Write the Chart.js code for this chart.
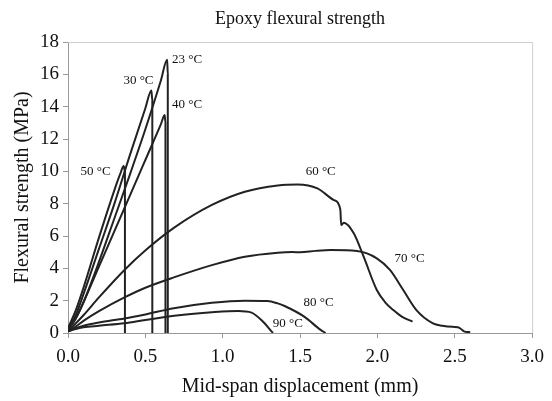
<!DOCTYPE html>
<html>
<head>
<meta charset="utf-8">
<script src="https://cdn.jsdelivr.net/npm/chart.js@4.4.1/dist/chart.umd.min.js"></script>
<style>
  html, body { margin: 0; padding: 0; background: #fff; }
  #wrap { width: 552px; height: 401px; }
</style>
</head>
<body>
<div id="wrap"><canvas id="flex"></canvas></div>
<script>
// Flexural strength (MPa) vs mid-span displacement (mm)
const x23 = [0, 0.05, 0.1, 0.2, 0.3, 0.4, 0.5, 0.6, 0.641, 0.645, 0.645];
const y23 = [0.2, 0.9, 1.9, 4.4, 7.1, 9.8, 12.6, 15.6, 16.9, 16.0, 0];

const x30 = [0, 0.05, 0.1, 0.2, 0.3, 0.4, 0.5, 0.539, 0.545, 0.545];
const y30 = [0.2, 1.1, 2.4, 5.2, 8.0, 11.0, 13.9, 15.0, 14.4, 0];

const x40 = [0, 0.05, 0.1, 0.2, 0.3, 0.4, 0.5, 0.6, 0.625, 0.63, 0.63];
const y40 = [0.2, 0.9, 1.9, 4.1, 6.3, 8.5, 10.7, 12.9, 13.48, 13.0, 0];

const x50 = [0, 0.05, 0.1, 0.2, 0.3, 0.34, 0.36, 0.368, 0.368];
const y50 = [0.3, 1.4, 2.8, 5.9, 8.84, 9.9, 10.33, 10.0, 0];

const x60 = [0, 0.1, 0.2, 0.365, 0.503, 0.684, 0.93, 1.143, 1.356, 1.484, 1.612, 1.719, 1.76, 1.766,
  1.783, 1.847, 1.911, 1.996, 2.05, 2.103, 2.16, 2.227];
const y60 = [0.1, 1.1, 2.2, 3.9, 5.13, 6.5, 7.92, 8.74, 9.13, 9.19, 8.95, 8.22, 7.65, 6.68,
  6.82, 6.17, 4.72, 2.66, 1.9, 1.42, 1.0, 0.7];

const x70 = [0, 0.05, 0.1, 0.2, 0.365, 0.5, 0.684, 0.93, 1.143, 1.356, 1.45, 1.5, 1.6, 1.7, 1.868, 1.996,
  2.081, 2.167, 2.252, 2.359, 2.42, 2.487, 2.52, 2.54, 2.56, 2.6];
const y70 = [0.1, 0.4, 0.75, 1.35, 2.2, 2.8, 3.44, 4.2, 4.72, 4.97, 5.01, 4.99, 5.08, 5.13, 5.07, 4.62,
  3.9, 2.66, 1.42, 0.6, 0.45, 0.38, 0.36, 0.25, 0.1, 0.05];

const x80 = [0, 0.05, 0.1, 0.2, 0.365, 0.5, 0.684, 0.93, 1.143, 1.29, 1.356, 1.4, 1.527, 1.633, 1.665];
const y80 = [0.1, 0.3, 0.45, 0.65, 0.9, 1.15, 1.53, 1.87, 2.0, 1.98, 1.83, 1.67, 1.01, 0.19, 0];

const x90 = [0, 0.05, 0.1, 0.2, 0.365, 0.5, 0.717, 0.93, 1.1, 1.186, 1.25, 1.325];
const y90 = [0.1, 0.25, 0.35, 0.45, 0.6, 0.8, 1.1, 1.28, 1.36, 1.26, 0.8, 0];

// curve labels (left edge x, middle y in data units)
const labelText = ['23 °C', '30 °C', '40 °C', '50 °C', '60 °C', '70 °C', '80 °C', '90 °C'];
const labelX = [0.672, 0.358, 0.672, 0.081, 1.536, 2.111, 1.523, 1.324];
const labelY = [16.94, 15.6, 14.16, 9.97, 9.97, 4.62, 1.87, 0.6];

const xTicks = [0, 0.5, 1, 1.5, 2, 2.5, 3];
const yTicks = [0, 2, 4, 6, 8, 10, 12, 14, 16, 18];

const serif = '"Liberation Serif", "DejaVu Serif", serif';

function pts(xs, ys) {
	let out = [];
	for (var i = 0; i < xs.length; i++) {
		out.push({ x: xs[i], y: ys[i] });
	}
	return out;
}

const series = [
	[x23, y23], [x30, y30], [x40, y40], [x50, y50],
	[x60, y60], [x70, y70], [x80, y80], [x90, y90]
];

const datasets = series.map((s, i) => ({
	label: labelText[i],
	data: pts(s[0], s[1]),
	showLine: true,
	borderColor: '#222',
	borderWidth: 2,
	pointRadius: 0,
	cubicInterpolationMode: 'monotone',
	fill: false
}));

// title, plot frame and curve labels
const extras = {
	id: 'extras',
	afterDraw(chart) {
		const ctx = chart.ctx;
		const a = chart.chartArea;
		const sx = chart.scales.x;
		const sy = chart.scales.y;
		ctx.save();
		ctx.strokeStyle = '#cfcfcf';
		ctx.lineWidth = 1;
		ctx.beginPath();
		ctx.moveTo(a.left, a.top + 0.5);
		ctx.lineTo(a.right + 0.5, a.top + 0.5);
		ctx.lineTo(a.right + 0.5, a.bottom);
		ctx.stroke();

		ctx.fillStyle = '#111';
		ctx.font = '18px ' + serif;
		ctx.textAlign = 'center';
		ctx.textBaseline = 'middle';
		ctx.fillText('Epoxy flexural strength', (a.left + a.right) / 2, 19);

		ctx.font = '13px ' + serif;
		ctx.textAlign = 'left';
		for (var i = 0; i < labelText.length; i++) {
			ctx.fillText(labelText[i], sx.getPixelForValue(labelX[i]), sy.getPixelForValue(labelY[i]));
		}
		ctx.restore();
	}
};

new Chart(document.getElementById('flex'), {
	type: 'scatter',
	data: { datasets: datasets },
	options: {
		responsive: true,
		maintainAspectRatio: false,
		animation: false,
		events: [],
		layout: { padding: { top: 42, right: 15, left: 0, bottom: 0 } },
		plugins: {
			legend: { display: false },
			tooltip: { enabled: false }
		},
		scales: {
			x: {
				type: 'linear',
				min: 0,
				max: 3,
				afterFit: (scale) => { scale.height = 68; },
				afterBuildTicks: (scale) => { scale.ticks = xTicks.map((v) => ({ value: v })); },
				ticks: {
					color: '#111',
					padding: 8,
					font: { family: serif, size: 19 },
					callback: (v) => Number(v).toFixed(1)
				},
				grid: { drawOnChartArea: false, drawTicks: true, tickLength: 5, color: '#999' },
				border: { color: '#999', width: 1 },
				title: {
					display: true,
					text: 'Mid-span displacement (mm)',
					color: '#111',
					font: { family: serif, size: 20 },
					padding: { top: 4, bottom: 2 }
				}
			},
			y: {
				min: 0,
				max: 18,
				afterFit: (scale) => { scale.width = 68; },
				afterBuildTicks: (scale) => { scale.ticks = yTicks.map((v) => ({ value: v })); },
				ticks: {
					color: '#111',
					padding: 4,
					font: { family: serif, size: 19 }
				},
				grid: { drawOnChartArea: false, drawTicks: true, tickLength: 5, color: '#999' },
				border: { color: '#999', width: 1 },
				title: {
					display: true,
					text: 'Flexural strength (MPa)',
					color: '#111',
					font: { family: serif, size: 20 },
					padding: { top: 11, bottom: 4 }
				}
			}
		}
	},
	plugins: [extras]
});
</script>
</body>
</html>
